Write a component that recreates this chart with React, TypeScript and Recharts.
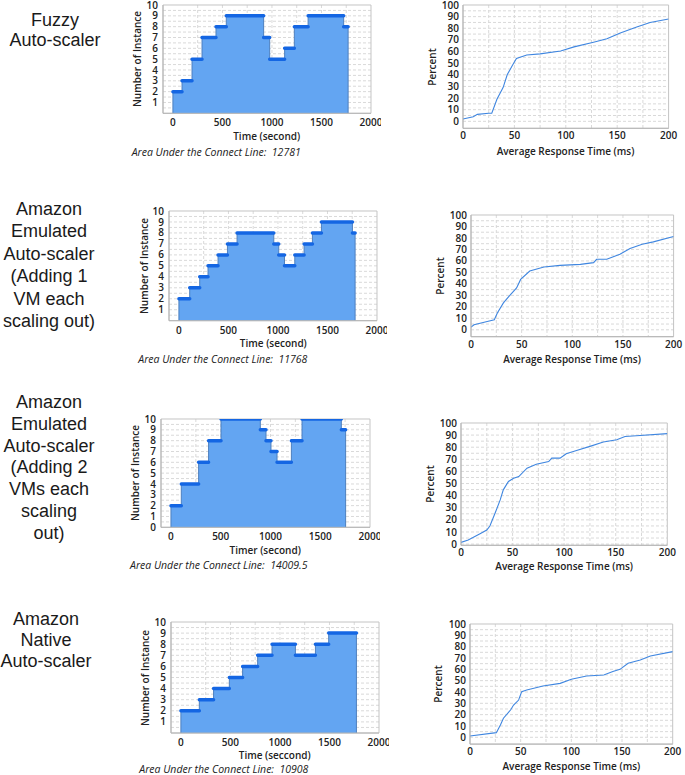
import { ComposedChart, Area, Line, LineChart, XAxis, YAxis, CartesianGrid } from 'recharts';

const FONT = '"Open Sans", "Noto Sans", sans-serif';
const FILL_BLUE = '#63a5f2';
const STEP_BLUE = '#1466e3';
const CDF_BLUE = '#3f86e0';

// instance count: time each level starts (s), the level, and end of the run
const fuzzyTimes = [0, 92, 193, 294, 435, 539, 916, 977, 1128, 1226, 1365, 1724];
const fuzzyLevels = [2, 3, 5, 7, 8, 9, 7, 5, 6, 8, 9, 8];
const fuzzyEnd = 1769;

const oneVmTimes = [0, 109, 210, 294, 395, 490, 587, 958, 1008, 1066, 1170, 1264, 1348, 1439, 1752];
const oneVmLevels = [2, 3, 4, 5, 6, 7, 8, 7, 6, 5, 6, 7, 8, 9, 8];
const oneVmEnd = 1779;

const twoVmTimes = [0, 104, 278, 378, 503, 898, 955, 1005, 1066, 1210, 1317, 1712];
const twoVmLevels = [2, 4, 6, 8, 10, 9, 8, 7, 6, 8, 10, 9];
const twoVmEnd = 1755;

const nativeTimes = [0, 186, 330, 489, 623, 775, 920, 1156, 1358, 1492];
const nativeLevels = [2, 3, 4, 5, 6, 7, 8, 7, 8, 9];
const nativeEnd = 1772;

// response time CDFs (ms, percent)
const fuzzyRt = [0, 10, 14, 25, 28, 33, 39, 43, 48, 52, 62, 75, 95, 108, 127, 140, 153, 169, 182, 200];
const fuzzyPct = [2, 4, 6, 7, 7, 19, 29, 40, 48, 54, 57, 58, 60.5, 64, 68, 71, 76, 81, 85, 88];

const oneVmRt = [0, 3, 16, 23, 26, 32, 39, 45, 49, 58, 72, 88, 108, 121, 124, 134, 147, 157, 169, 180, 200];
const oneVmPct = [2.3, 4.4, 7.3, 8.8, 14.6, 23.4, 30.7, 36.5, 43.9, 51.2, 54.7, 56.1, 57, 58.5, 61.4, 61.4, 65.8, 70.8, 74.6, 76.6, 81.3];

const twoVmRt = [0, 7, 18, 25, 28, 33, 38, 41, 46, 51, 56, 64, 73, 85, 88, 96, 102, 112, 125, 138, 151, 159, 170, 200];
const twoVmPct = [1.4, 3.3, 8.3, 11.6, 14.9, 25.4, 36.5, 44.8, 51.7, 54.4, 55.8, 62.7, 66, 68.2, 71, 71, 74.6, 77.3, 80.7, 84.3, 86.2, 88.9, 89.5, 91.2];

const nativeRt = [0, 26, 30, 33, 40, 43, 48, 51, 56, 72, 89, 100, 115, 132, 141, 148, 156, 168, 178, 200];
const nativePct = [1.2, 4.1, 10.9, 16.8, 24.1, 28.5, 32.9, 40.3, 41.8, 45.3, 47.6, 51.2, 54.1, 55, 58, 60, 65.3, 68.2, 71.8, 75.6];

const timeTicks = [0, 500, 1000, 1500, 2000];
const rtTicks = [0, 50, 100, 150, 200];
const pctTicks = [0, 10, 20, 30, 40, 50, 60, 70, 80, 90, 100];

const range = (a: number, b: number, step: number) => {
  const out: number[] = [];
  for (let v = a; v <= b + 1e-9; v += step) out.push(v);
  return out;
};

const tickStyle = { fontSize: 10, fill: '#222', fontWeight: 600, fontFamily: FONT };

function areaPoints(times: number[], levels: number[], end: number) {
  const pts = [{ t: times[0], n: 0 }];
  times.forEach((t, i) => pts.push({ t, n: levels[i] }));
  pts.push({ t: end, n: levels[levels.length - 1] });
  pts.push({ t: end, n: 0 });
  return pts;
}

function segmentPoints(times: number[], levels: number[], end: number) {
  return times.flatMap((t, i) => {
    const next = i + 1 < times.length ? times[i + 1] : end;
    return [
      { t, n: levels[i] as number | null },
      { t: next, n: levels[i] as number | null },
      { t: next, n: null },
    ];
  });
}

function XTitle({ text, cx, cy }: { text: string; cx: number; cy: number }) {
  return (
    <div
      style={{
        position: 'absolute', left: cx, top: cy, transform: 'translate(-50%, -50%)',
        whiteSpace: 'nowrap', fontSize: 10, fontWeight: 600, color: '#222', fontFamily: FONT,
      }}
    >
      {text}
    </div>
  );
}

function YTitle({ text, cx, cy }: { text: string; cx: number; cy: number }) {
  return (
    <div
      style={{
        position: 'absolute', left: cx, top: cy, transform: 'translate(-50%, -50%) rotate(-90deg)',
        whiteSpace: 'nowrap', fontSize: 10, fontWeight: 600, color: '#222', fontFamily: FONT,
      }}
    >
      {text}
    </div>
  );
}

type StepProps = {
  times: number[]; levels: number[]; end: number;
  left: number; top: number; w: number; h: number;
  yTicks: number[]; xTitle: string; yTitleX: number; xTitleY: number;
  caption: string; capX: number; capY: number;
};

function StepChart(p: StepProps) {
  const area = areaPoints(p.times, p.levels, p.end);
  const segs = segmentPoints(p.times, p.levels, p.end);
  return (
    <>
      <div style={{ position: 'absolute', left: p.left - 40, top: p.top - 6 }}>
        <ComposedChart width={p.w + 50} height={p.h + 26} margin={{ top: 6, right: 10, bottom: 0, left: 0 }}>
          <CartesianGrid
            stroke="#d9d9d9"
            strokeDasharray="3 2"
            horizontalValues={range(0.5, 9.5, 0.5)}
            verticalValues={range(250, 1750, 250)}
          />
          <CartesianGrid stroke="#c4c4c4" horizontalValues={[0, 10]} verticalValues={[-100, 2000]} />
          <XAxis
            type="number"
            dataKey="t"
            domain={[-100, 2000]}
            ticks={timeTicks}
            allowDataOverflow
            height={20}
            tickSize={0}
            tickMargin={6}
            axisLine={{ stroke: '#b5b5b5' }}
            tick={tickStyle}
            interval={0}
          />
          <YAxis
            type="number"
            domain={[0, 10]}
            ticks={p.yTicks}
            allowDataOverflow
            width={40}
            tickSize={0}
            tickMargin={5}
            axisLine={{ stroke: '#b5b5b5' }}
            tick={tickStyle}
            interval={0}
          />
          <Area
            data={area}
            dataKey="n"
            type="stepAfter"
            fill={FILL_BLUE}
            fillOpacity={1}
            stroke="#4d7fbf"
            strokeWidth={1}
            isAnimationActive={false}
          />
          <Line
            data={segs}
            dataKey="n"
            type="linear"
            stroke={STEP_BLUE}
            strokeWidth={3.5}
            strokeLinecap="round"
            dot={false}
            connectNulls={false}
            isAnimationActive={false}
          />
        </ComposedChart>
      </div>
      <YTitle text="Number of Instance" cx={p.yTitleX} cy={p.top + p.h / 2} />
      <XTitle text={p.xTitle} cx={p.left + p.w / 2} cy={p.xTitleY} />
      <div
        style={{
          position: 'absolute', left: p.capX, top: p.capY, transform: 'translateY(-50%)',
          whiteSpace: 'pre', fontSize: 10.5, fontStyle: 'italic', color: '#222', fontFamily: FONT,
        }}
      >
        {'Area Under the Connect Line:  ' + p.caption}
      </div>
    </>
  );
}

type CdfProps = {
  rt: number[]; pct: number[]; yMin: number;
  left: number; top: number; w: number; h: number;
  yTitleX: number; xTitleY: number;
};

function CdfChart(p: CdfProps) {
  const data = p.rt.map((x, i) => ({ x, y: p.pct[i] }));
  return (
    <>
      <div style={{ position: 'absolute', left: p.left - 40, top: p.top - 6 }}>
        <LineChart width={p.w + 50} height={p.h + 20} data={data} margin={{ top: 6, right: 10, bottom: 0, left: 0 }}>
          <CartesianGrid
            stroke="#d9d9d9"
            strokeDasharray="3 2"
            horizontalValues={range(0, 95, 5)}
            verticalValues={range(25, 175, 25)}
          />
          <CartesianGrid stroke="#c4c4c4" horizontalValues={[p.yMin, 100]} verticalValues={[0, 200]} />
          <XAxis
            type="number"
            dataKey="x"
            domain={[0, 200]}
            ticks={rtTicks}
            allowDataOverflow
            height={14}
            tickSize={0}
            tickMargin={4}
            axisLine={{ stroke: '#b5b5b5' }}
            tick={tickStyle}
            interval={0}
          />
          <YAxis
            type="number"
            domain={[p.yMin, 100]}
            ticks={pctTicks}
            allowDataOverflow
            width={40}
            tickSize={0}
            tickMargin={4}
            axisLine={{ stroke: '#b5b5b5' }}
            tick={tickStyle}
            interval={0}
          />
          <Line dataKey="y" type="linear" stroke={CDF_BLUE} strokeWidth={1.1} dot={false} isAnimationActive={false} />
        </LineChart>
      </div>
      <YTitle text="Percent" cx={p.yTitleX} cy={p.top + p.h / 2} />
      <XTitle text="Average Response Time (ms)" cx={p.left + p.w / 2} cy={p.xTitleY} />
    </>
  );
}

function RowLabel({ lines, cx, top, lh }: { lines: string[]; cx: number; top: number; lh: number }) {
  return (
    <div
      style={{
        position: 'absolute', left: cx - 60, top, width: 120, textAlign: 'center',
        fontFamily: '"Liberation Sans", Arial, sans-serif', fontSize: 18, lineHeight: `${lh}px`, color: '#1a1a1a',
      }}
    >
      {lines.map((l) => (
        <div key={l}>{l}</div>
      ))}
    </div>
  );
}

const oneToTen = range(1, 10, 1);
const zeroToTen = range(0, 10, 1);

export default function App() {
  return (
    <div style={{ position: 'absolute', left: 0, top: 0, width: 685, height: 775, background: '#fff', overflow: 'hidden' }}>
      <RowLabel lines={['Fuzzy', 'Auto-scaler']} cx={55} top={10} lh={20} />
      <StepChart
        times={fuzzyTimes} levels={fuzzyLevels} end={fuzzyEnd}
        left={162.7} top={5} w={208} h={108.3} yTicks={oneToTen}
        xTitle="Time (second)" yTitleX={136.7} xTitleY={136}
        caption="12781" capX={131.7} capY={152.3}
      />
      <CdfChart rt={fuzzyRt} pct={fuzzyPct} yMin={-6} left={462.7} top={5} w={205.6} h={123.3} yTitleX={431.7} xTitleY={150.7} />

      <RowLabel
        lines={['Amazon', 'Emulated', 'Auto-scaler', '(Adding 1', 'VM each', 'scaling out)']}
        cx={49} top={198} lh={22.4}
      />
      <StepChart
        times={oneVmTimes} levels={oneVmLevels} end={oneVmEnd}
        left={169.3} top={211} w={208} h={109.7} yTicks={oneToTen}
        xTitle="Time (second)" yTitleX={144} xTitleY={343.3}
        caption="11768" capX={138.3} capY={359}
      />
      <CdfChart rt={oneVmRt} pct={oneVmPct} yMin={-6} left={470.7} top={215} w={202.6} h={121.7} yTitleX={440} xTitleY={358.7} />

      <RowLabel
        lines={['Amazon', 'Emulated', 'Auto-scaler', '(Adding 2', 'VMs each', 'scaling', 'out)']}
        cx={49} top={392} lh={21.8}
      />
      <StepChart
        times={twoVmTimes} levels={twoVmLevels} end={twoVmEnd}
        left={160.7} top={419} w={209} h={108.3} yTicks={zeroToTen}
        xTitle="Timer (second)" yTitleX={135} xTitleY={550}
        caption="14009.5" capX={130} capY={565}
      />
      <CdfChart rt={twoVmRt} pct={twoVmPct} yMin={-1} left={461} top={423} w={206.3} h={122.3} yTitleX={430} xTitleY={566} />

      <RowLabel lines={['Amazon', 'Native', 'Auto-scaler']} cx={46} top={609} lh={21.2} />
      <StepChart
        times={nativeTimes} levels={nativeLevels} end={nativeEnd}
        left={170.7} top={622.3} w={208} h={111} yTicks={oneToTen}
        xTitle="Time (seccond)" yTitleX={145} xTitleY={755}
        caption="10908" capX={139.3} capY={769}
      />
      <CdfChart rt={nativeRt} pct={nativePct} yMin={-6} left={470} top={624} w={202.7} h={120.1} yTitleX={438.3} xTitleY={766} />
    </div>
  );
}
